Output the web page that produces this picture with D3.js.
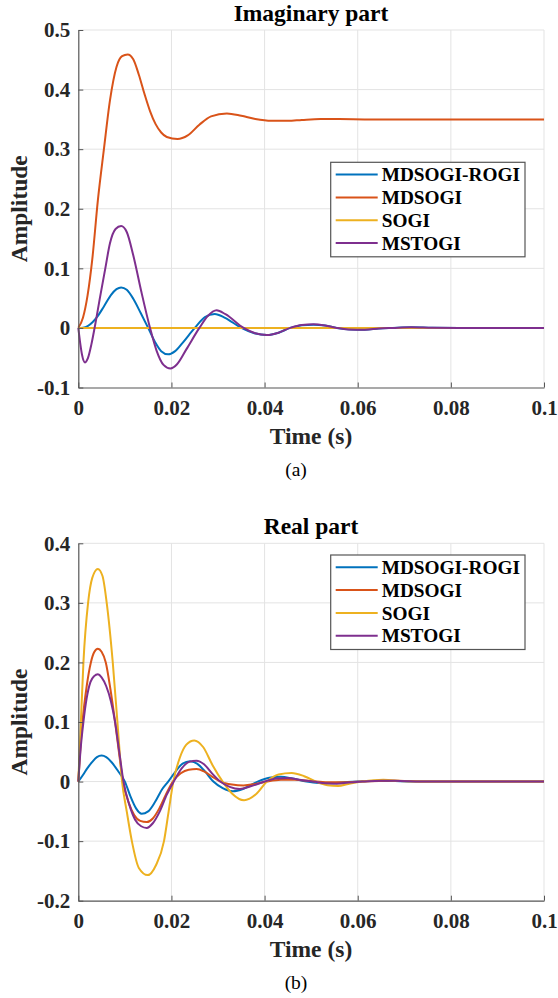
<!DOCTYPE html>
<html><head><meta charset="utf-8">
<script src="https://cdn.jsdelivr.net/npm/d3@7"></script>
<style>
body{margin:0;background:#fff}
svg{display:block}
text{font-family:"Liberation Serif","Times New Roman",serif}
</style>
</head><body>
<svg id="c" width="558" height="998"></svg>
<script>
// ---------- data ----------
const seriesNames = ["MDSOGI-ROGI", "MDSOGI", "SOGI", "MSTOGI"];
const seriesColors = ["#0072BD", "#D95319", "#EDB120", "#7E2F8E"];

const timeTicks = [0, 0.02, 0.04, 0.06, 0.08, 0.1];
const timeTickLabels = ["0", "0.02", "0.04", "0.06", "0.08", "0.1"];

const imagTicks = [-0.1, 0, 0.1, 0.2, 0.3, 0.4, 0.5];
const imagTickLabels = ["-0.1", "0", "0.1", "0.2", "0.3", "0.4", "0.5"];
const realTicks = [-0.2, -0.1, 0, 0.1, 0.2, 0.3, 0.4];
const realTickLabels = ["-0.2", "-0.1", "0", "0.1", "0.2", "0.3", "0.4"];

// (a) Imaginary part : [time s, amplitude]
const imagMdsogiRogi = [[0,0],[0.001,0.0005],[0.002,0.003],[0.003,0.009],[0.004,0.018],[0.0055,0.036],[0.007,0.055],[0.0082,0.065],[0.0092,0.068],[0.0104,0.064],[0.0118,0.049],[0.0134,0.025],[0.015,0],[0.0165,-0.024],[0.0178,-0.039],[0.0193,-0.0444],[0.0208,-0.039],[0.0224,-0.025],[0.025,0],[0.0272,0.018],[0.0293,0.0235],[0.0315,0.017],[0.035,0],[0.0378,-0.009],[0.0405,-0.012],[0.043,-0.008],[0.0455,0],[0.048,0.0045],[0.0505,0.0055],[0.053,0.004],[0.0555,0],[0.0585,-0.0025],[0.0615,-0.003],[0.0645,-0.001],[0.0675,0],[0.0715,0.001],[0.076,0.0003],[0.082,0],[0.1,0]];
const imagMdsogi = [[0,0],[0.001,0.017],[0.002,0.055],[0.003,0.115],[0.0042,0.214],[0.0055,0.3],[0.0068,0.382],[0.0082,0.438],[0.0094,0.456],[0.0106,0.459],[0.0118,0.451],[0.013,0.425],[0.0142,0.393],[0.0154,0.364],[0.0166,0.342],[0.0178,0.328],[0.019,0.3205],[0.0213,0.317],[0.0235,0.323],[0.026,0.341],[0.0285,0.355],[0.0319,0.36],[0.035,0.356],[0.038,0.3505],[0.0415,0.3475],[0.045,0.3475],[0.048,0.349],[0.052,0.3505],[0.056,0.3505],[0.062,0.35],[0.1,0.35]];
const imagSogi = [[0,0],[0.1,0]];
const imagMstogi = [[0,0],[0.0004,-0.025],[0.0008,-0.045],[0.00145,-0.058],[0.0021,-0.05],[0.0028,-0.028],[0.0035,0],[0.0047,0.053],[0.0058,0.1],[0.0068,0.142],[0.008,0.166],[0.0092,0.171],[0.0104,0.161],[0.0118,0.122],[0.0135,0.062],[0.0154,0],[0.0168,-0.038],[0.0183,-0.062],[0.0198,-0.068],[0.0212,-0.061],[0.0232,-0.036],[0.026,0],[0.0278,0.02],[0.0297,0.0296],[0.0316,0.023],[0.0355,0],[0.038,-0.009],[0.0405,-0.012],[0.043,-0.008],[0.0455,0],[0.048,0.005],[0.0505,0.006],[0.053,0.004],[0.0555,0],[0.058,-0.0025],[0.0615,-0.003],[0.0645,-0.001],[0.0675,0],[0.0715,0.0012],[0.076,0.0003],[0.082,0],[0.1,0]];

// (b) Real part : [time s, amplitude]
const realMdsogiRogi = [[0,0],[0.001,0.011],[0.002,0.023],[0.003,0.033],[0.004,0.041],[0.005,0.0436],[0.006,0.041],[0.0072,0.032],[0.0086,0.017],[0.01,0],[0.0112,-0.025],[0.0124,-0.045],[0.0136,-0.054],[0.015,-0.05],[0.0165,-0.034],[0.018,-0.013],[0.0193,0],[0.0208,0.016],[0.0224,0.03],[0.024,0.034],[0.0255,0.03],[0.0272,0.017],[0.029,0],[0.031,-0.011],[0.0332,-0.0163],[0.0355,-0.012],[0.0385,0],[0.041,0.0065],[0.0435,0.008],[0.046,0.005],[0.049,0],[0.0515,-0.0025],[0.054,-0.003],[0.057,-0.001],[0.06,0],[0.064,0.0015],[0.068,0.0008],[0.075,0],[0.1,0]];
const realMdsogi = [[0,0],[0.0004,0.05],[0.0009,0.1],[0.0018,0.16],[0.0027,0.2],[0.0034,0.217],[0.0042,0.223],[0.005,0.218],[0.0059,0.2],[0.0069,0.155],[0.0079,0.1],[0.0088,0.045],[0.0096,0],[0.0108,-0.035],[0.012,-0.056],[0.0133,-0.066],[0.0147,-0.068],[0.016,-0.062],[0.0174,-0.045],[0.0188,-0.022],[0.0203,0],[0.022,0.014],[0.0237,0.02],[0.0254,0.021],[0.027,0.017],[0.0288,0.008],[0.0305,0],[0.033,-0.005],[0.0355,-0.0065],[0.038,-0.004],[0.0405,0],[0.0435,0.003],[0.0465,0.0032],[0.05,0.001],[0.0535,-0.001],[0.057,-0.0012],[0.061,0],[0.066,0.0015],[0.07,0.001],[0.076,0],[0.1,0]];
const realSogi = [[0,0],[0.0005,0.09],[0.0011,0.2],[0.0021,0.3],[0.003,0.342],[0.0042,0.357],[0.0052,0.345],[0.0061,0.3],[0.0074,0.2],[0.0084,0.1],[0.0094,0],[0.0104,-0.05],[0.0115,-0.1],[0.013,-0.145],[0.0149,-0.157],[0.0167,-0.14],[0.0184,-0.1],[0.0194,-0.05],[0.0204,0],[0.0218,0.04],[0.0232,0.062],[0.0249,0.069],[0.0268,0.058],[0.0288,0.028],[0.031,0],[0.033,-0.02],[0.0356,-0.0314],[0.0382,-0.021],[0.0405,0],[0.043,0.012],[0.0458,0.0145],[0.0485,0.009],[0.051,0],[0.0535,-0.006],[0.0558,-0.0073],[0.058,-0.004],[0.061,0],[0.0655,0.003],[0.07,0.0005],[0.075,0],[0.1,0]];
const realMstogi = [[0,0],[0.0005,0.055],[0.0011,0.1],[0.0018,0.14],[0.0026,0.167],[0.0034,0.177],[0.0042,0.18],[0.005,0.175],[0.006,0.16],[0.007,0.135],[0.0079,0.1],[0.0088,0.05],[0.0097,0],[0.011,-0.04],[0.0122,-0.064],[0.0135,-0.075],[0.0147,-0.0778],[0.016,-0.07],[0.0175,-0.05],[0.019,-0.022],[0.0205,0],[0.0222,0.022],[0.0238,0.033],[0.0254,0.035],[0.027,0.029],[0.0288,0.013],[0.0305,0],[0.0325,-0.009],[0.0347,-0.0126],[0.037,-0.008],[0.04,0],[0.0425,0.005],[0.045,0.006],[0.0475,0.003],[0.0505,0],[0.053,-0.003],[0.0555,-0.0035],[0.058,-0.0015],[0.061,0],[0.065,0.0015],[0.069,0.001],[0.075,0],[0.1,0]];

// ---------- drawing ----------
const svg = d3.select("#c");
const X0 = 78.3, X1 = 544;
const AXIS = "#262626";

function panel(o) {
  const x = d3.scaleLinear().domain([0, 0.1]).range([X0, X1]);
  const y = d3.scaleLinear().domain(o.yDomain).range([o.bottom, o.top]);
  const g = svg.append("g");

  // grid
  g.append("g").selectAll("line").data(timeTicks.slice(1)).join("line")
    .attr("x1", d => x(d)).attr("x2", d => x(d)).attr("y1", o.top).attr("y2", o.bottom)
    .attr("stroke", "#e3e3e3").attr("stroke-width", 1);
  g.append("g").selectAll("line").data(o.yTicks.slice(1)).join("line")
    .attr("x1", X0).attr("x2", X1).attr("y1", d => y(d)).attr("y2", d => y(d))
    .attr("stroke", "#e3e3e3").attr("stroke-width", 1);

  // series
  const line = d3.line().x(d => x(d[0])).y(d => y(d[1])).curve(d3.curveMonotoneX);
  o.series.forEach((s, i) => {
    g.append("path").datum(s).attr("d", line).attr("fill", "none")
      .attr("stroke", seriesColors[i]).attr("stroke-width", 2).attr("stroke-linejoin", "round");
  });

  // axes
  const xAxis = d3.axisBottom(x).tickValues(timeTicks).tickFormat((d, i) => timeTickLabels[i])
    .tickSizeInner(-5).tickSizeOuter(0).tickPadding(13);
  const gx = g.append("g").attr("transform", `translate(0,${o.bottom})`).call(xAxis);
  const yAxis = d3.axisLeft(y).tickValues(o.yTicks).tickFormat((d, i) => o.yLabels[i])
    .tickSizeInner(-5).tickSizeOuter(0).tickPadding(8);
  const gy = g.append("g").attr("transform", `translate(${X0},0)`).call(yAxis);
  [gx, gy].forEach(a => {
    a.select(".domain").attr("stroke", "#555").attr("stroke-width", 1.2);
    a.selectAll(".tick line").attr("stroke", "#555");
    a.selectAll(".tick text").attr("fill", "#262626").style("font-size", "21px")
      .style("font-weight", "bold").style("font-family", '"Liberation Serif",serif');
  });
  gx.selectAll(".tick text").attr("dy", null).attr("y", 27.5).attr("dominant-baseline", "auto");

  // title
  g.append("text").attr("x", 311).attr("y", o.top - 9).attr("text-anchor", "middle")
    .style("font-size", "23.5px").style("font-weight", "bold").attr("fill", "#000").text(o.title);
  // x label
  g.append("text").attr("x", 311).attr("y", o.bottom + 56).attr("text-anchor", "middle")
    .style("font-size", "23.5px").style("font-weight", "bold").attr("fill", "#262626").text("Time (s)");
  // y label
  g.append("text").attr("transform", `translate(27,${(o.top + o.bottom) / 2}) rotate(-90)`)
    .attr("text-anchor", "middle").style("font-size", "23.5px").style("font-weight", "bold")
    .attr("fill", "#262626").text("Amplitude");
  // caption
  g.append("text").attr("x", 296).attr("y", o.bottom + 88).attr("text-anchor", "middle")
    .style("font-size", "19.5px").attr("fill", "#000").text(o.caption);

  // legend
  const lg = g.append("g").attr("transform", `translate(330.7,${o.legendTop})`);
  lg.append("rect").attr("width", 194.3).attr("height", 94.5).attr("fill", "#fff")
    .attr("stroke", "#555").attr("stroke-width", 1.2);
  seriesNames.forEach((n, i) => {
    const yy = 12.3 + i * 22.8;
    lg.append("line").attr("x1", 5).attr("x2", 47).attr("y1", yy).attr("y2", yy)
      .attr("stroke", seriesColors[i]).attr("stroke-width", 2);
    lg.append("text").attr("x", 51).attr("y", yy).attr("dy", "0.35em")
      .style("font-size", "19.3px").style("font-weight", "bold").attr("fill", "#000").text(n);
  });
}

panel({
  top: 30, bottom: 387.5, yDomain: [-0.1, 0.5], yTicks: imagTicks, yLabels: imagTickLabels,
  series: [imagMdsogiRogi, imagMdsogi, imagSogi, imagMstogi],
  title: "Imaginary part", caption: "(a)", legendTop: 162.3
});
panel({
  top: 543.3, bottom: 900.7, yDomain: [-0.2, 0.4], yTicks: realTicks, yLabels: realTickLabels,
  series: [realMdsogiRogi, realMdsogi, realSogi, realMstogi],
  title: "Real part", caption: "(b)", legendTop: 555
});
</script>
</body></html>
